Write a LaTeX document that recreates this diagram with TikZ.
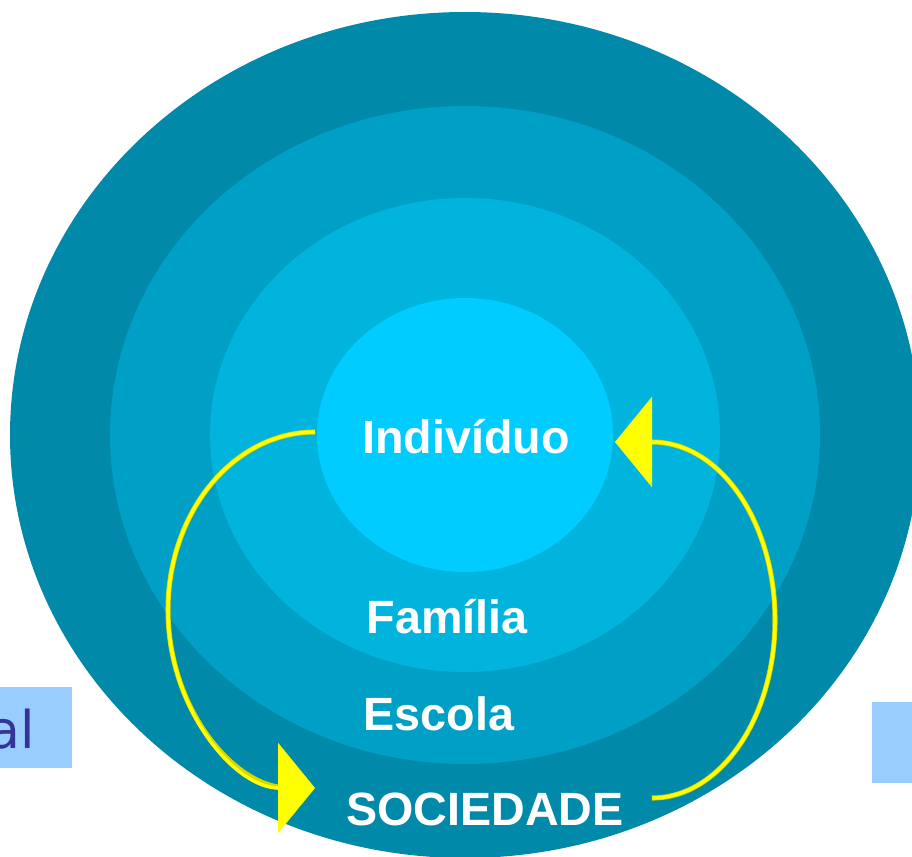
\documentclass[tikz,border=0pt]{standalone}
\usepackage{fontspec}
\setmainfont{Liberation Sans}
\newfontfamily\sidefont{DejaVu Sans}
\usetikzlibrary{arrows.meta}

\definecolor{ringA}{RGB}{0,137,168}
\definecolor{ringB}{RGB}{0,160,198}
\definecolor{ringC}{RGB}{0,180,222}
\definecolor{ringD}{RGB}{0,204,255}
\definecolor{sidebox}{RGB}{153,204,255}
\definecolor{sidetext}{RGB}{51,51,153}
\definecolor{cycyellow}{RGB}{255,255,0}
\definecolor{cycedge}{RGB}{215,215,0}

\begin{document}
\begin{tikzpicture}[x=0.75pt,y=0.75pt,yscale=-1,xscale=1,
	lbl/.style={text=white, font=\fontsize{35}{42}\selectfont\bfseries, inner sep=0, anchor=base},
	cycarrow/.style={cycyellow, line width=2.6pt, -{Triangle[length=27.75pt,width=67.5pt]},
		preaction={draw=cycedge, line width=3.8pt, -, shorten >=20pt}}]
	\useasboundingbox (0,0) rectangle (912,856);
	\clip (0,0) rectangle (912,856);
	
	% side boxes
	\fill [sidebox] (0,687) rectangle (72,768);
	\fill [sidebox] (872,702) rectangle (912,783);
	\node (side) [anchor=base east, inner sep=0, text=sidetext, font=\sidefont\fontsize{39}{46}\selectfont] at (35,748) {al};
	
	% rings
	\fill [ringA] (465,435) ellipse [x radius=455, y radius=423];
	\fill [ringB] (465,435) ellipse [x radius=355, y radius=329];
	\fill [ringC] (465,435) ellipse [x radius=255, y radius=237];
	\fill [ringD] (465,435) ellipse [x radius=148, y radius=137];
	
	% labels
	\node (ind) [lbl] at (466,453) {Indivíduo};
	\node (fam) [lbl] at (447,633) {Família};
	\node (esc) [lbl] at (439,730) {Escola};
	\node (soc) [lbl] at (485,825) {SOCIEDADE};
	
	% cycle arrows
	\coordinate (indout) at (315,432);
	\coordinate (socout) at (652,798);
	\coordinate (indin) at (615,442);
	\draw [cycarrow] (indout) arc [start angle=270, end angle=90, x radius=147, y radius=178];
	\draw [cycarrow] (socout) arc [start angle=90, end angle=-90, x radius=123, y radius=178] -- (indin);
	
\end{tikzpicture}
\end{document}
